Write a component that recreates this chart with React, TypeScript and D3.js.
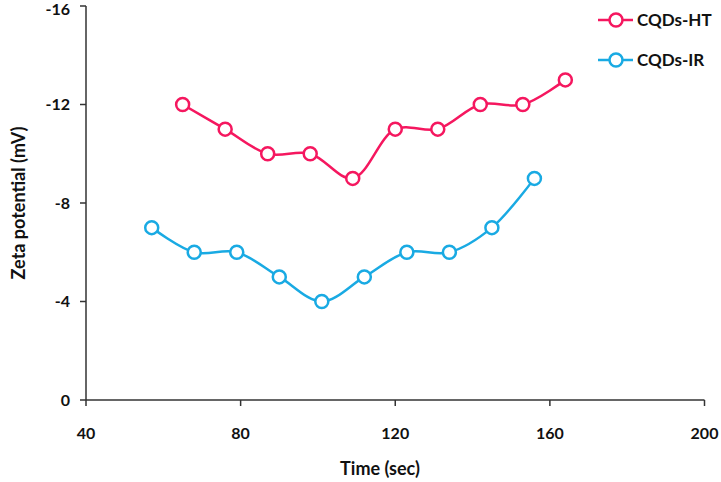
import React from "react";
import * as d3 from "d3";

const timesHT = [65, 76, 87, 98, 109, 120, 131, 142, 153, 164];
const valuesHT = [-12, -11, -10, -10, -9, -11, -11, -12, -12, -13];
const timesIR = [57, 68, 79, 90, 101, 112, 123, 134, 145, 156];
const valuesIR = [-7, -6, -6, -5, -4, -5, -6, -6, -7, -9];
const xTicks = [40, 80, 120, 160, 200];
const yTicks = [0, -4, -8, -12, -16];
const seriesNames = ["CQDs-HT", "CQDs-IR"];
const colors = ["#F5175F", "#19AAE3"];

const W = 721;
const H = 482;
const FONT = "Lato, 'Open Sans', sans-serif";

export default function App() {
  const x = d3.scaleLinear().domain([40, 200]).range([86, 704.5]);
  const y = d3.scaleLinear().domain([0, -16]).range([400, 6]);
  const line = d3
    .line<[number, number]>()
    .x((d) => x(d[0]))
    .y((d) => y(d[1]))
    .curve(d3.curveCatmullRom.alpha(0.5));

  const series = [
    { name: seriesNames[0], pts: timesHT.map((t, i) => [t, valuesHT[i]] as [number, number]), color: colors[0] },
    { name: seriesNames[1], pts: timesIR.map((t, i) => [t, valuesIR[i]] as [number, number]), color: colors[1] },
  ];

  return (
    <svg width={W} height={H} style={{ position: "absolute", left: 0, top: 0, background: "#fff" }}>
      {/* axes */}
      <line x1={x(40)} x2={x(200)} y1={y(0)} y2={y(0)} stroke="#333" strokeWidth={1.5} />
      <line x1={x(40)} x2={x(40)} y1={y(0)} y2={y(-16)} stroke="#333" strokeWidth={1.5} />
      {yTicks.map((t) => (
        <g key={"y" + t}>
          <line x1={x(40) - 6} x2={x(40)} y1={y(t)} y2={y(t)} stroke="#333" strokeWidth={1.5} />
          <text x={70} y={Math.max(y(t), 9)} dy="0.36em" textAnchor="end" fontFamily={FONT} fontWeight="bold" fontSize={16} fill="#111">
            {t === 0 ? "0" : "-" + Math.abs(t)}
          </text>
        </g>
      ))}
      {xTicks.map((t) => (
        <g key={"x" + t}>
          <line x1={x(t)} x2={x(t)} y1={y(0)} y2={y(0) + 6} stroke="#333" strokeWidth={1.5} />
          <text x={x(t)} y={439} textAnchor="middle" fontFamily={FONT} fontWeight="bold" fontSize={16} fill="#111">
            {t}
          </text>
        </g>
      ))}
      <text x={380} y={475} textAnchor="middle" fontFamily={FONT} fontWeight="bold" fontSize={18} fill="#111">
        Time (sec)
      </text>
      <text
        transform={`translate(25, ${y(-8)}) rotate(-90)`}
        textAnchor="middle"
        fontFamily={FONT}
        fontWeight="bold"
        fontSize={18}
        fill="#111"
      >
        Zeta potential (mV)
      </text>
      {series.map((s) => (
        <g key={s.name}>
          <path d={line(s.pts) || ""} fill="none" stroke={s.color} strokeWidth={2.5} />
          {s.pts.map((p, i) => (
            <circle key={i} cx={x(p[0])} cy={y(p[1])} r={6.5} fill="#fff" stroke={s.color} strokeWidth={2.5} />
          ))}
        </g>
      ))}
      {/* legend */}
      {series.map((s, i) => (
        <g key={"lg" + s.name} transform={`translate(0, ${20 + i * 40})`}>
          <line x1={598} x2={633} y1={0} y2={0} stroke={s.color} strokeWidth={2.5} />
          <circle cx={616} cy={0} r={6.5} fill="#fff" stroke={s.color} strokeWidth={2.5} />
          <text x={637} y={0} dy="0.36em" fontFamily={FONT} fontWeight="bold" fontSize={17} fill="#111">
            {s.name}
          </text>
        </g>
      ))}
    </svg>
  );
}
